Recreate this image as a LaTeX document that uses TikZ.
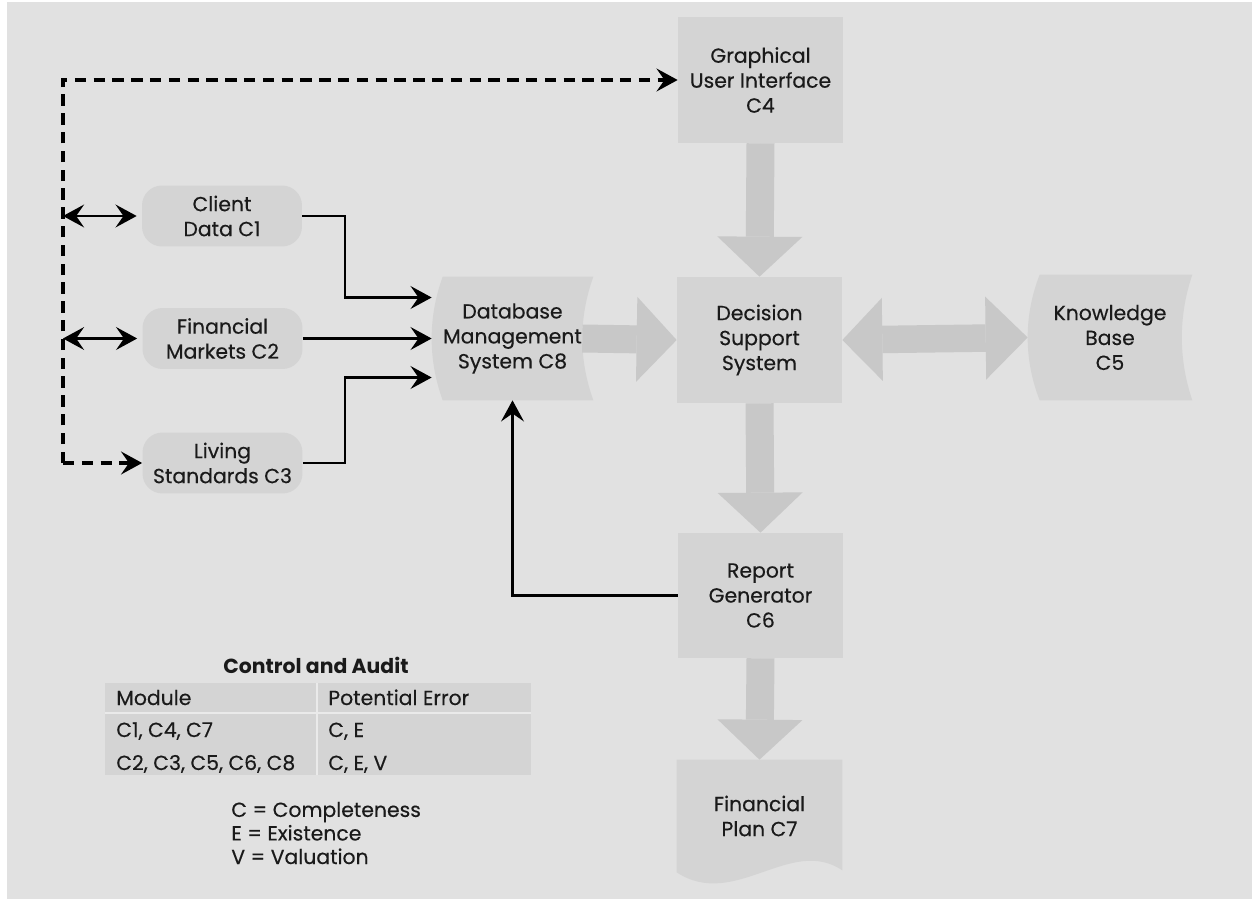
\documentclass[tikz,border=0pt]{standalone}
\usepackage{fontspec}
\setmainfont[FakeBold=0.35]{Poppins}
\newfontfamily\headfont{Poppins}
\usetikzlibrary{arrows.meta,calc}

\pgfdeclarelayer{base}
\pgfdeclarelayer{shapes}
\pgfsetlayers{base,shapes,main}

\definecolor{pagegray}{HTML}{E1E1E1}
\definecolor{boxgray}{HTML}{D4D4D4}
\definecolor{flowgray}{HTML}{C8C8C8}
\definecolor{inkgray}{HTML}{1A1A1A}
\definecolor{rulegray}{HTML}{EAEAEA}

\begin{document}
\begin{tikzpicture}[x=0.02cm,y=-0.02cm,
  every node/.style={text=inkgray, font=\fontsize{11.6}{14.2}\selectfont},
  block/.style={fill=boxgray, minimum width=3.3cm, minimum height=2.52cm, align=center, inner sep=0pt},
  source/.style={fill=boxgray, rounded corners=0.4cm, minimum width=3.2cm, minimum height=1.22cm, align=center, inner sep=0pt},
  holder/.style={align=center, inner sep=0pt},
  shapefill/.style={fill=boxgray},
  fat/.style={draw=flowgray, fill=flowgray, line width=0.56cm,
    -{Triangle[length=0.8cm,width=1.7cm,line width=0pt 0 0]}},
  fatboth/.style={draw=flowgray, fill=flowgray, line width=0.55cm,
    {Triangle[length=0.8cm,width=1.66cm,line width=0pt 0 0]}-{Triangle[length=0.84cm,width=1.66cm,line width=0pt 0 0]}},
  link/.style={draw=black, line width=1.2pt, -{Stealth[length=12pt,width=13pt,inset=4.5pt]}},
  linkboth/.style={draw=black, line width=1.2pt, {Stealth[length=12pt,width=13pt,inset=4.5pt]}-{Stealth[length=12pt,width=13pt,inset=4.5pt]}},
  dashlink/.style={draw=black, line width=1.8pt, dash pattern=on 6.5pt off 4.2pt, -{Stealth[length=12pt,width=13pt,inset=4.5pt]}},
  cell/.style={anchor=base west, inner sep=0pt},
]
\useasboundingbox (0,0) rectangle (1252,899);

% page
\begin{pgfonlayer}{base}
  \fill[white] (0,0) rectangle (1252,899);
  \fill[pagegray] (7,2) rectangle (1252,899);
\end{pgfonlayer}

% main blocks
\node[block] (gui) at (760.5,80) {Graphical\\User Interface\\C4};
\node[block] (dss) at (759.5,340) {Decision\\Support\\System};
\node[block, minimum height=2.5cm] (rg) at (760.5,595.5) {Report\\Generator\\C6};

% stored-data and document shapes (text holders, outlines drawn below)
\node[holder, minimum width=3.22cm, minimum height=2.46cm] (dbms) at (512.5,338.5) {Database\\Management\\System C8};
\node[holder, minimum width=3.28cm, minimum height=2.5cm] (kb) at (1110,337.5) {Knowledge\\Base\\C5};
\node[holder, minimum width=3.3cm, minimum height=2.24cm] (fp) at (759.5,816) {Financial\\Plan C7};

\begin{pgfonlayer}{shapes}
  \fill[shapefill] ($(dbms.north west)+(11,0)$) -- (dbms.north east)
    .. controls ($(dbms.north east)+(-14.7,41)$) and ($(dbms.south east)+(-14.7,-41)$) .. (dbms.south east)
    -- ($(dbms.south west)+(11,0)$)
    .. controls ($(dbms.south west)+(-3.7,-41)$) and ($(dbms.north west)+(-3.7,41)$) .. cycle;
  \fill[shapefill] ($(kb.north west)+(12,0)$) -- (kb.north east)
    .. controls ($(kb.north east)+(-14,41)$) and ($(kb.south east)+(-14,-41)$) .. (kb.south east)
    -- ($(kb.south west)+(12,0)$)
    .. controls ($(kb.south west)+(-4,-41)$) and ($(kb.north west)+(-4,41)$) .. cycle;
  \fill[shapefill] (fp.north west) -- (fp.north east) -- ($(fp.south east)+(0,-2)$)
    .. controls ($(fp.south east)+(-52,-37)$) and ($(fp.south west)+(58,38)$) .. (fp.south west) -- cycle;
\end{pgfonlayer}

% data sources
\node[source] (c1) at (222,216) {Client\\Data C1};
\node[source] (c2) at (222.5,338.5) {Financial\\Markets C2};
\node[source] (c3) at (222.5,463) {Living\\Standards C3};

% broad flow arrows
\draw[fat] (gui.south) -- (dss.north);
\draw[fat] (dss.south) -- (rg.north);
\draw[fat] (rg.south) -- (fp.north);
\draw[fat] ($(dbms.east)+(-11,0)$) -- (dss.west);
\draw[fatboth] (dss.east) -- (kb.west);

% input links
\coordinate (bus) at (63,463);
\draw[dashlink] (bus) |- (gui.west);
\draw[dashlink] (bus) -- (c3.west);
\draw[linkboth, shorten >=0.1cm] (bus |- c1.west) -- (c1.west);
\draw[linkboth, shorten >=0.1cm] (bus |- c2.west) -- (c2.west);
\draw[link] (c1.east) -- ++(43,0) |- ($(dbms.west)+(0,-41)$);
\draw[link] (c2.east) -- (c2.east -| dbms.west);
\draw[link] (c3.east) -- ++(42,0) |- ($(dbms.west)+(0,39)$);
\draw[link] (rg.west) -| (dbms.south);

% control and audit table
\node[font=\fontsize{11.6}{14.2}\headfont\bfseries] (title) at (316,665) {Control and Audit};
\fill[boxgray] (105,683) rectangle (531,775);
\draw[rulegray, line width=1.2pt] (105,713) -- (531,713);
\draw[rulegray, line width=1.2pt] (317,683) -- (317,775);
\node[cell] (h1) at (116,705) {Module};
\node[cell] (h2) at (328,705) {Potential Error};
\node[cell] (r1a) at (116,737) {C1, C4, C7};
\node[cell] (r1b) at (328,737) {C, E};
\node[cell] (r2a) at (116,770) {C2, C3, C5, C6, C8};
\node[cell] (r2b) at (328,770) {C, E, V};

% key
\node[anchor=base west, inner sep=0pt, align=left, font=\fontsize{11.6}{13.4}\selectfont] (key) at (231,864)
  {C = Completeness\\E = Existence\\V = Valuation};
\end{tikzpicture}
\end{document}
